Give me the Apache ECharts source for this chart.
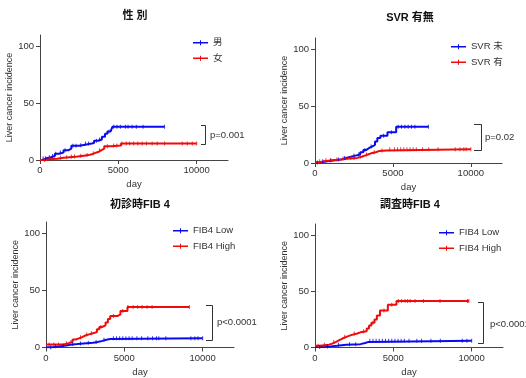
<!DOCTYPE html>
<html><head><meta charset="utf-8">
<script src="https://cdn.jsdelivr.net/npm/echarts@6/dist/echarts.min.js"></script>
<style>html,body{margin:0;padding:0;background:#fff}#c{width:526px;height:378px}</style>
</head><body><div id="c"></div>
<script>
// ---- tick labels ----
const xTicks = [0, 5000, 10000];
const yTicks = [0, 50, 100];

// ---- Panel 1: 性別 ----
const maleDays = [0, 150, 400, 700, 950, 1200, 1500, 1800, 2000, 2500, 2700, 3300, 3450, 3700, 3950, 4150, 4300, 4500, 4620, 7950];
const maleVals = [0, 1.5, 2.5, 3.5, 5.5, 6.5, 8.5, 10, 12.5, 13, 14.5, 15, 17, 18, 20.5, 23, 25, 25.5, 29.2, 29.2];
const maleCens = [200, 350, 600, 800, 1000, 1300, 1600, 2100, 2300, 2600, 2900, 3100, 3600, 3800, 4400, 4700, 4915, 5130, 5450, 5620, 5880, 6150, 6580, 7950];
const femaleDays = [0, 400, 700, 1100, 1500, 1900, 2400, 2800, 3100, 3300, 3500, 3700, 3900, 4100, 4500, 5170, 10000];
const femaleVals = [0, 0.8, 1.2, 2, 2.5, 3, 3.8, 4.3, 5, 6, 7, 8.5, 10, 12, 12.8, 14.6, 14.6];
const femaleCens = [300, 600, 900, 1300, 1700, 2000, 2200, 2600, 3000, 3400, 3800, 4300, 4700, 4900, 5230, 5510, 5720, 5980, 6240, 6520, 6790, 7160, 7480, 7950, 9080, 9400, 9720, 10000];

// ---- Panel 2: SVR有無 ----
const svrNoDays = [0, 300, 800, 1300, 1650, 2000, 2300, 2600, 2900, 3100, 3300, 3450, 3650, 3850, 4000, 4200, 4650, 5210, 7280];
const svrNoVals = [0.5, 1.5, 2.5, 3, 4.5, 5.5, 6.5, 7.5, 9.5, 11.5, 13, 14.5, 16, 19, 22, 24, 27, 32, 32];
const svrNoCens = [150, 500, 1000, 1500, 1900, 2500, 2800, 3200, 3600, 4400, 4900, 5340, 5550, 5770, 5980, 6190, 6410, 7280];
const svrYesDays = [0, 200, 600, 1100, 1700, 2200, 2700, 3000, 3200, 3400, 3600, 3900, 4100, 4600, 10000];
const svrYesVals = [0.5, 1.5, 2.5, 3, 4, 4.5, 5.5, 6.5, 7.5, 8.5, 9.5, 10.5, 11, 12, 12];
const svrYesCens = [300, 700, 1000, 1400, 1800, 2300, 2500, 2900, 3300, 3800, 4300, 4800, 5100, 5300, 5500, 5700, 5900, 6100, 6300, 6500, 6900, 7300, 7900, 9000, 9300, 9550, 9700, 10000];

// ---- Panel 3: 初診時FIB4 ----
const fib1LowDays = [0, 400, 900, 1300, 1550, 2000, 2400, 3000, 3300, 3600, 3850, 4100, 10000];
const fib1LowVals = [0.3, 1, 1.8, 2.5, 3, 3.5, 4.2, 4.8, 5.8, 6.8, 7.5, 8, 8];
const fib1LowCens = [300, 600, 1100, 1700, 2200, 2700, 3200, 3700, 4300, 4500, 4700, 4900, 5100, 5300, 5500, 5800, 6100, 6500, 6800, 7050, 7200, 7650, 9250, 9500, 9700, 10000];
const fib1HighDays = [0, 1130, 1450, 1700, 1900, 2100, 2300, 2500, 2750, 3000, 3250, 3400, 3600, 3800, 3950, 4100, 4550, 4750, 5200, 9150];
const fib1HighVals = [2.6, 3.8, 5, 7, 8, 9, 10.5, 11.5, 12.5, 13.5, 16, 18, 19.5, 22, 25, 27.5, 29, 32, 35.6, 35.6];
const fib1HighCens = [200, 500, 800, 1300, 1600, 2200, 2600, 2900, 3500, 4300, 4900, 5230, 5560, 5850, 6130, 6450, 6770, 9150];

// ---- Panel 4: 調査時FIB4 ----
const fib2LowDays = [0, 500, 1000, 1400, 2000, 2900, 3200, 3420, 10000];
const fib2LowVals = [0.5, 1, 1.5, 2.5, 3, 4, 5, 6, 6];
const fib2LowCens = [300, 800, 1500, 2200, 2600, 3500, 3700, 3900, 4100, 4300, 4500, 4700, 4900, 5100, 5300, 5500, 5700, 6000, 6500, 6800, 7400, 8000, 9400, 9700, 10000];
const fib2HighDays = [0, 300, 900, 1100, 1350, 1550, 1750, 2000, 2300, 2700, 2900, 3300, 3450, 3600, 3800, 3950, 4150, 4650, 5200, 9820];
const fib2HighVals = [1.5, 2.5, 3.5, 5, 6.5, 8, 9.5, 11, 12.5, 13.5, 14.5, 17, 19.5, 22, 25, 28.5, 33, 38, 41.5, 41.5];
const fib2HighCens = [200, 600, 1200, 1900, 2500, 3100, 3700, 4400, 4900, 5320, 5530, 5750, 5910, 6070, 6390, 6920, 7980, 9730, 9820];

// ---- texts ----
const titles = ['性 別', 'SVR 有無', '初診時FIB 4', '調査時FIB 4'];
const legendNames = [['男', '女'], ['SVR 未', 'SVR 有'], ['FIB4 Low', 'FIB4 High'], ['FIB4 Low', 'FIB4 High']];
const pTexts = ['p=0.001', 'p=0.02', 'p<0.0001', 'p<0.0001'];
const yName = 'Liver cancer incidence';
const xName = 'day';

const curves = [
  [[maleDays, maleVals, maleCens], [femaleDays, femaleVals, femaleCens]],
  [[svrNoDays, svrNoVals, svrNoCens], [svrYesDays, svrYesVals, svrYesCens]],
  [[fib1LowDays, fib1LowVals, fib1LowCens], [fib1HighDays, fib1HighVals, fib1HighCens]],
  [[fib2LowDays, fib2LowVals, fib2LowCens], [fib2HighDays, fib2HighVals, fib2HighCens]]
];

// ---- layout / style ----
const FONT = '"Liberation Sans", "Noto Sans CJK JP", sans-serif';
const COLORS = ['#0a0af0', '#f00a0a'];
const AXIS = '#444';
const TEXT = '#333';
const gridBoxes = [
  {left: 40, top: 35, width: 188, height: 125},
  {left: 315, top: 38, width: 187, height: 125},
  {left: 46, top: 222, width: 188, height: 126},
  {left: 315, top: 224, width: 188, height: 126}
];
const titlePos = [[135, 16], [410, 18], [140, 205], [410, 205]];
const legendPos = [[193, 38], [451, 42], [173, 226], [439, 228]];
const bracketPos = [[201, 205.5, 125, 144], [474, 481.5, 124, 150], [206, 212.5, 305, 340], [478, 483.5, 302, 343]];
const pPos = [[210, 135], [485, 137], [217, 322], [490, 324]];

function stepAt(days, vals, d) {
  let v = vals[0];
  for (let i = 0; i < days.length; i++) if (days[i] <= d) v = vals[i];
  return v;
}

const xAxis = [], yAxis = [], series = [], legend = [], graphic = [];
gridBoxes.forEach((g, k) => {
  xAxis.push({
    type: 'value', gridIndex: k, min: 0, max: 12000,
    name: xName, nameLocation: 'middle', nameGap: 20,
    nameTextStyle: {fontFamily: FONT, fontSize: 9.5, color: TEXT},
    axisLine: {show: true, lineStyle: {color: AXIS, width: 1}},
    axisTick: {show: true, length: 4, lineStyle: {color: AXIS}, customValues: xTicks},
    axisLabel: {fontFamily: FONT, fontSize: 9.5, color: TEXT, margin: 6, customValues: xTicks, formatter: v => String(v)},
    splitLine: {show: false}
  });
  yAxis.push({
    type: 'value', gridIndex: k, min: 0, max: 110,
    name: yName, nameLocation: 'middle', nameGap: 24, nameRotate: 90,
    nameTextStyle: {fontFamily: FONT, fontSize: 9, color: TEXT},
    axisLine: {show: true, lineStyle: {color: AXIS, width: 1}},
    axisTick: {show: true, length: 4, lineStyle: {color: AXIS}, customValues: yTicks},
    axisLabel: {fontFamily: FONT, fontSize: 9.5, color: TEXT, margin: 6, customValues: yTicks, formatter: v => String(v)},
    splitLine: {show: false}
  });
  curves[k].forEach((c, j) => {
    const [days, vals, cens] = c;
    series.push({
      type: 'line', name: legendNames[k][j], xAxisIndex: k, yAxisIndex: k,
      step: 'end', showSymbol: false, color: COLORS[j],
      lineStyle: {width: 2, color: COLORS[j]},
      data: days.map((d, i) => [d, vals[i]]), silent: true, z: 3
    });
    series.push({
      type: 'scatter', name: 'cens' + k + j, xAxisIndex: k, yAxisIndex: k,
      symbol: 'rect', symbolSize: [1, 4], itemStyle: {color: COLORS[j]},
      data: cens.map(d => [d, stepAt(days, vals, d)]), silent: true, z: 4
    });
  });
  legend.push({
    data: legendNames[k], orient: 'vertical', left: legendPos[k][0], top: legendPos[k][1],
    icon: 'path://M0,3.5H30V6.5H0Z M14,0H16V10H14Z', itemWidth: 15, itemHeight: 5, itemGap: 6, itemTextGap: 5,
    selectedMode: false, padding: 0,
    textStyle: {fontFamily: FONT, fontSize: 9.5, color: TEXT}
  });
  graphic.push({
    type: 'text', x: titlePos[k][0], y: titlePos[k][1],
    style: {text: titles[k], fontFamily: FONT, fontSize: 11, fontWeight: 'bold', fill: '#111', align: 'center', verticalAlign: 'middle'}
  });
  const b = bracketPos[k];
  graphic.push({
    type: 'polyline', shape: {points: [[b[0], b[2] + 0.5], [b[1], b[2] + 0.5], [b[1], b[3] + 0.5], [b[0], b[3] + 0.5]]},
    style: {stroke: '#333', lineWidth: 1, fill: null}
  });
  graphic.push({
    type: 'text', x: pPos[k][0], y: pPos[k][1],
    style: {text: pTexts[k], fontFamily: FONT, fontSize: 9.5, fill: TEXT, align: 'left', verticalAlign: 'middle'}
  });
});

const chart = echarts.init(document.getElementById('c'), null, {renderer: 'canvas'});
chart.setOption({
  animation: false,
  backgroundColor: '#fff',
  grid: gridBoxes.map(g => Object.assign({containLabel: false}, g)),
  xAxis, yAxis, series, legend, graphic
});
</script>
</body></html>
